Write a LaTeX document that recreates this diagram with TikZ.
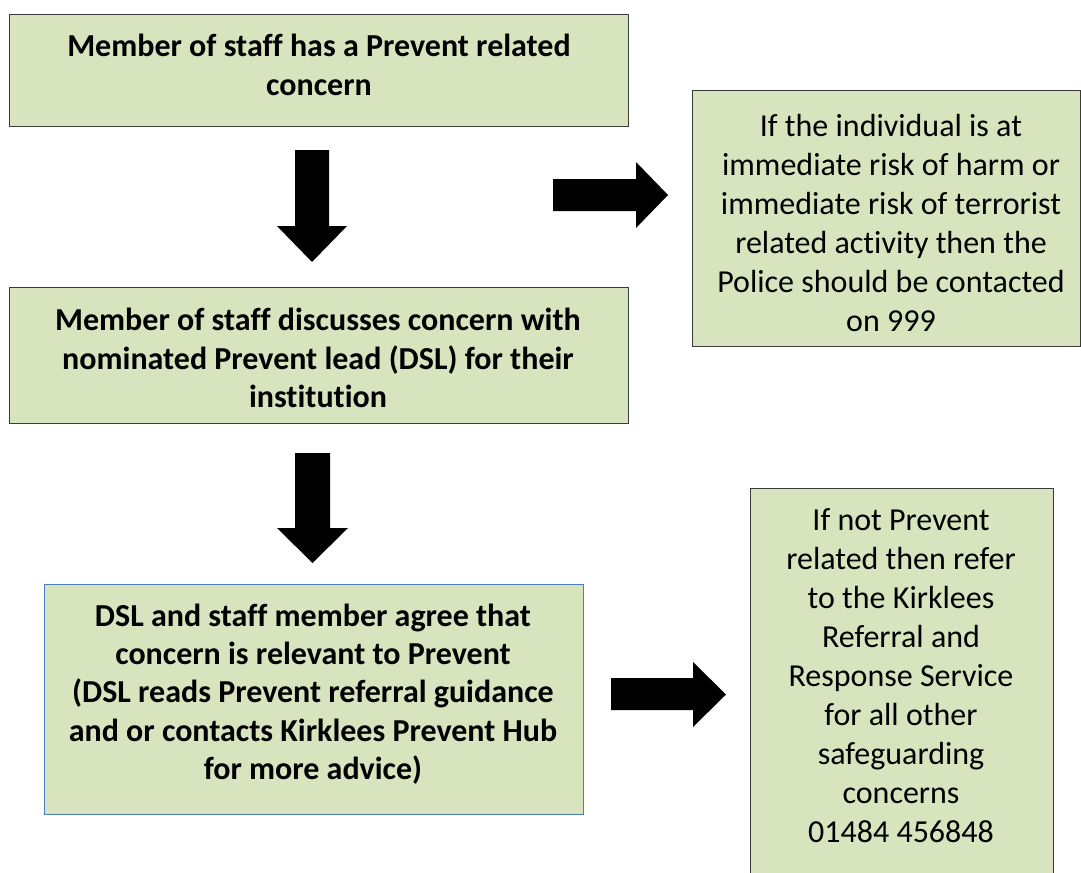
\documentclass[tikz,border=0pt]{standalone}
\usepackage{fontspec}
\setmainfont{Carlito}[Ligatures=NoCommon]
\definecolor{boxfill}{HTML}{D7E4BD}
\definecolor{boxline}{HTML}{3A3A3A}
\definecolor{blueline}{HTML}{4A7EBB}
\begin{document}
\begin{tikzpicture}[x=0.75pt,y=-0.75pt,
  box/.style={draw=boxline, line width=1.1pt, fill=boxfill, rectangle, inner sep=0pt, anchor=north west},
  bluebox/.style={box, draw=blueline, line width=0.9pt},
  txt/.style={align=center, inner sep=0pt, font=\fontsize{24pt}{29.25pt}\selectfont},
  boldtxt/.style={align=center, inner sep=0pt, font=\fontsize{24pt}{28.8pt}\selectfont\bfseries},
  blockarrow/.style={fill=black}]
\useasboundingbox (0,0) rectangle (1081,872);

% boxes
\node[box, minimum width=464.25pt, minimum height=84pt] (concern) at (9,14) {};
\node[box, minimum width=464.25pt, minimum height=102pt] (discuss) at (9,287) {};
\node[box, minimum width=291pt, minimum height=192pt] (police) at (692,90) {};
\node[bluebox, minimum width=404.25pt, minimum height=172.5pt] (agree) at (44,584) {};
\node[box, minimum width=227.25pt, minimum height=294pt] (refer) at (750,488) {};

% texts
\node[boldtxt] (concernT) at (319,65) {Member of staff has a Prevent related\\concern};
\node[boldtxt] (discussT) at (318,358) {Member of staff discusses concern with\\nominated Prevent lead (DSL) for their\\institution};
\node[txt] (policeT) at (891,222.5) {If the individual is at\\immediate risk of harm or\\immediate risk of terrorist\\related activity then the\\Police should be contacted\\on 999};
\node[boldtxt] (agreeT) at (313,694) {DSL and staff member agree that\\concern is relevant to Prevent\\(DSL reads Prevent referral guidance\\and or contacts Kirklees Prevent Hub\\for more advice)};
\node[txt] (referT) at (901,675.5) {If not Prevent\\related then refer\\to the Kirklees\\Referral and\\Response Service\\for all other\\safeguarding\\concerns\\01484 456848};

% block arrows
\fill[blockarrow] (295,150) -- (329,150) -- (329,226) -- (347,226) -- (312,262) -- (277,226) -- (295,226) -- cycle;
\fill[blockarrow] (295,453) -- (330,453) -- (330,528) -- (348,528) -- (312.5,563) -- (277,528) -- (295,528) -- cycle;
\fill[blockarrow] (553,179) -- (636,179) -- (636,162) -- (668,195) -- (636,228) -- (636,211) -- (553,211) -- cycle;
\fill[blockarrow] (611,678) -- (693,678) -- (693,662) -- (726,694.5) -- (693,727) -- (693,710) -- (611,710) -- cycle;
\end{tikzpicture}
\end{document}
